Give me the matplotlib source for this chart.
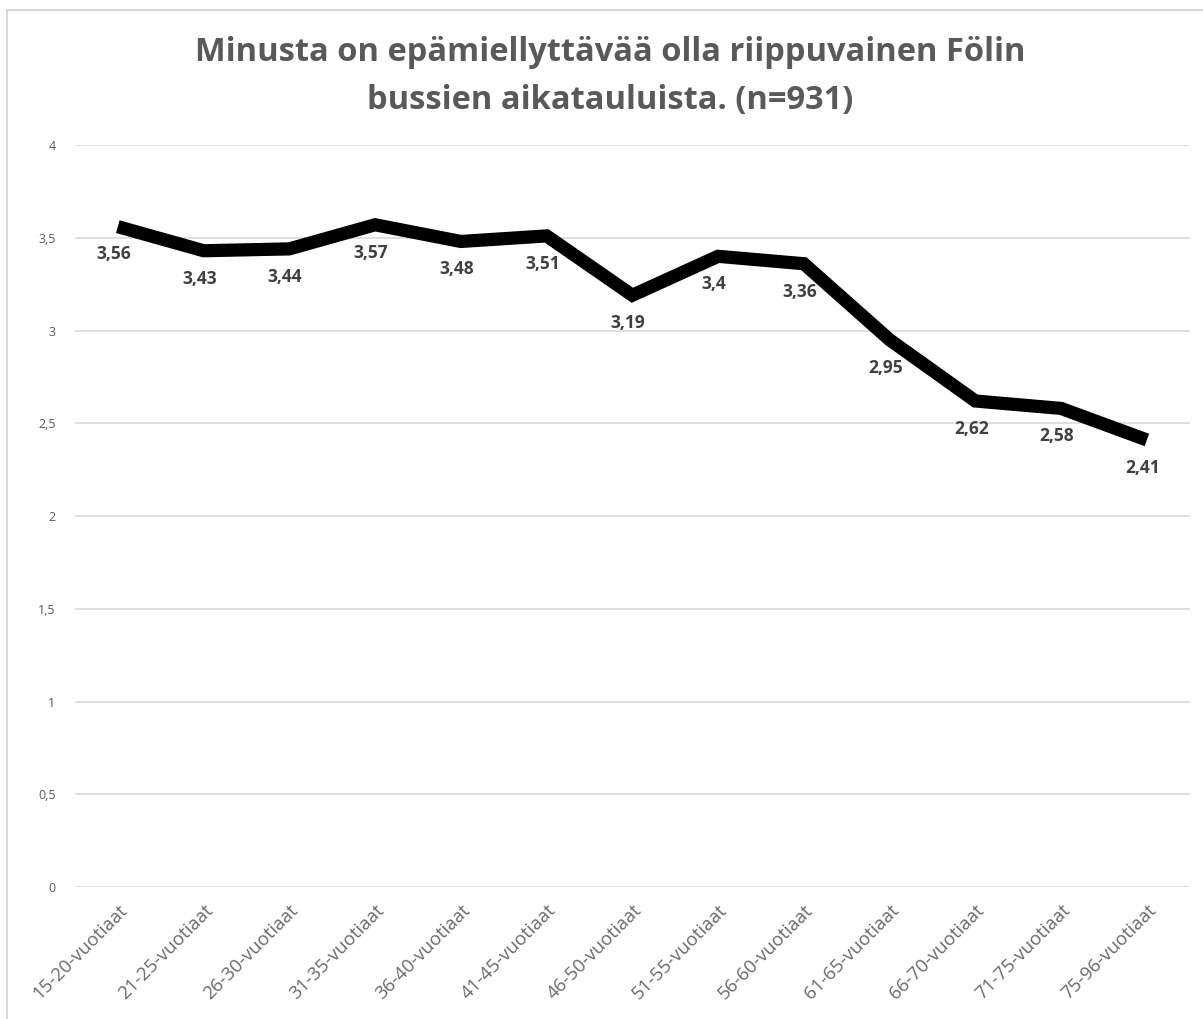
import numpy as np
import matplotlib
matplotlib.use("Agg")
import matplotlib.pyplot as plt
from matplotlib.lines import Line2D

plt.rcParams['font.family'] = ['Open Sans', 'DejaVu Sans']

##### Datos
ryhmat = ['15-20-vuotiaat', '21-25-vuotiaat', '26-30-vuotiaat', '31-35-vuotiaat',
          '36-40-vuotiaat', '41-45-vuotiaat', '46-50-vuotiaat', '51-55-vuotiaat',
          '56-60-vuotiaat', '61-65-vuotiaat', '66-70-vuotiaat', '71-75-vuotiaat',
          '75-96-vuotiaat']
keskiarvot = [3.56, 3.43, 3.44, 3.57, 3.48, 3.51, 3.19, 3.4, 3.36, 2.95, 2.62, 2.58, 2.41]
y_ticks = [0, 0.5, 1, 1.5, 2, 2.5, 3, 3.5, 4]
otsikko = 'Minusta on epämiellyttävää olla riippuvainen Fölin\nbussien aikatauluista. (n=931)'

def fmt(v):
    # pilkku desimaalierottimena
    s = f'{v:g}'
    return s.replace('.', ',')

fig = plt.figure(figsize=(12.03, 10.19), dpi=100)
ax = fig.add_axes([0.0623, 0.1295, 0.9267, 0.7282])

x = np.arange(len(ryhmat))
ax.plot(x, keskiarvot, color='black', linewidth=9.5, solid_joinstyle='miter', solid_capstyle='butt', zorder=3)

for xi, v in zip(x, keskiarvot):
    ax.annotate(fmt(v), (xi, v), xytext=(-3, -20), textcoords='offset points',
                ha='center', va='center', fontsize=12.5, fontweight='bold', color='#404040', zorder=4)

ax.set_xlim(-0.5, len(ryhmat) - 0.5)
ax.set_ylim(0, 4)
ax.set_yticks(y_ticks)
ax.set_yticklabels([fmt(t) for t in y_ticks], fontsize=9, color='#595959')
ax.set_xticks(x)
ax.set_xticklabels(ryhmat, rotation=45, ha='right', rotation_mode='anchor', fontsize=13.5, color='#6a6a6a')
ax.tick_params(axis='both', length=0)
ax.tick_params(axis='y', pad=14)
ax.tick_params(axis='x', pad=10)
ax.grid(axis='y', color='#d9d9d9', linewidth=1.2)
for s in ax.spines.values():
    s.set_visible(False)

fig.text(0.507, 0.925, otsikko, ha='center', va='center', fontsize=23.5, fontweight='bold',
         color='#595959', linespacing=1.58)

# kehys
fig.add_artist(Line2D([7/1203, 7/1203], [0, 1 - 10/1019], color='#d0d0d0', linewidth=1.2))
fig.add_artist(Line2D([7/1203, 1], [1 - 10/1019, 1 - 10/1019], color='#d0d0d0', linewidth=1.2))

fig.savefig('out.png', dpi=100)
